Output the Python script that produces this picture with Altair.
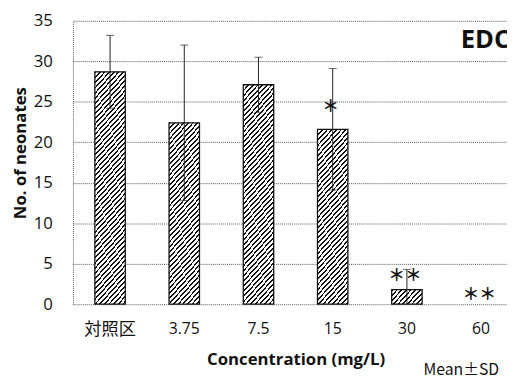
import math
import altair as alt
import pandas as pd

# ---- data ----
categories = ["対照区", "3.75", "7.5", "15", "30", "60"]
means = [28.7, 22.4, 27.1, 21.6, 1.8, 0.0]
sds = [4.5, 9.6, 3.4, 7.5, 2.5, 0.0]
star_cats = ["15", "30", "60"]
star_labels = ["＊", "＊＊", "＊＊"]
star_values = [24.4, 3.5, 1.1]
y_ticks = [0, 5, 10, 15, 20, 25, 30, 35]

# ---- layout ----
W, H = 441, 288
YMAX = 35
STEP = 75.4
PAD_IN = 0.59
BAR_W = STEP * (1 - PAD_IN)
FONT = "'Open Sans', 'Noto Sans CJK JP', sans-serif"
CJK = "'Noto Sans CJK JP', sans-serif"

df = pd.DataFrame({"cat": categories, "mean": means, "sd": sds})
df["lo"] = (df["mean"] - df["sd"]).clip(lower=0)
df["hi"] = df["mean"] + df["sd"]

stars = pd.DataFrame({"cat": star_cats, "label": star_labels, "val": star_values})


def hatch(w, h, period=3.5, dark=0.38, angle=48):
    """Diagonal '/' hatch built from a linear gradient in bbox units."""
    s = math.sin(math.radians(angle))
    c = math.cos(math.radians(angle))
    span = w * s + h * c
    k = span / (w * w * s * s + h * h * c * c)
    dt = period / span
    stops = []
    t = 0.0
    while t < 1:
        b = min(t + dark * dt, 1.0)
        e = min(t + dt, 1.0)
        stops += [
            alt.GradientStop(offset=t, color="#111111"),
            alt.GradientStop(offset=b, color="#111111"),
            alt.GradientStop(offset=b, color="#ffffff"),
            alt.GradientStop(offset=e, color="#ffffff"),
        ]
        t += dt
    return alt.LinearGradient(gradient="linear", stops=stops,
                              x1=0, y1=0, x2=k * w * s, y2=k * h * c)


X = alt.X(
    "cat:N",
    sort=categories,
    scale=alt.Scale(range=[0, 6 * STEP], paddingInner=PAD_IN, paddingOuter=PAD_IN / 2),
    axis=alt.Axis(
        title="Concentration (mg/L)",
        labelAngle=0,
        labelFont=FONT,
        labelFontSize={"condition": {"test": "datum.value === '対照区'", "value": 17.5},
                       "value": 16},
        labelColor="#111",
        labelPadding=17,
        ticks=False,
        tickSize=0,
        domain=False,
        grid=False,
        titleFont=FONT,
        titleFontSize=17,
        titleFontWeight="bold",
        titleColor="#111",
        titlePadding=14,
    ),
)

Y_AX = alt.Axis(
    title="No. of neonates",
    values=y_ticks,
    labelFont=FONT,
    labelFontSize=17,
    labelColor="#111",
    labelPadding=21,
    ticks=False,
    tickSize=0,
    domain=True,
    domainColor="#555",
    domainDash=[1, 1],
    domainWidth=1,
    grid=True,
    gridColor="#555",
    gridDash=[1, 1],
    gridWidth=1,
    titleFont=FONT,
    titleFontSize=17,
    titleFontWeight="bold",
    titleColor="#111",
    titlePadding=4,
    titleY=134,
)

Y = alt.Y("mean:Q", scale=alt.Scale(domain=[0, YMAX], nice=False), axis=Y_AX)

base = alt.Chart(df)

layers = []
for cat, m in zip(categories, means):
    if m <= 0:
        continue
    h = m / YMAX * H
    layers.append(
        base.transform_filter(alt.datum.cat == cat)
        .mark_bar(fill=hatch(BAR_W, h), stroke="#111", strokeWidth=1.3)
        .encode(x=X, y=Y)
    )

err = base.transform_filter(alt.datum.sd > 0)
layers.append(
    err.mark_rule(color="#222", strokeWidth=1).encode(x=X, y=alt.Y("lo:Q"), y2="hi:Q")
)
layers.append(
    err.mark_tick(color="#222", thickness=1, size=8).encode(x=X, y=alt.Y("hi:Q"))
)
layers.append(
    err.transform_filter(alt.datum.lo > 0)
    .mark_tick(color="#222", thickness=1, size=8)
    .encode(x=X, y=alt.Y("lo:Q"))
)

layers.append(
    alt.Chart(stars)
    .mark_text(font=CJK, fontSize=17, fontWeight="bold", baseline="middle", color="#111",
               dx=-2)
    .encode(x=X, y=alt.Y("val:Q"), text="label:N")
)

layers.append(
    alt.Chart(pd.DataFrame({"t": ["EDC"]}))
    .mark_text(align="left", baseline="middle", font=FONT, fontWeight="bold",
               fontSize=26, color="#111")
    .encode(x=alt.value(394), y=alt.value(20), text="t:N")
)

chart = (
    alt.layer(*layers)
    .properties(
        width=W,
        height=H,
        autosize=alt.AutoSizeParams(type="none"),
        padding={"left": 66, "top": 10, "right": 0, "bottom": 74},
        title=alt.TitleParams(
            "Mean±SD", orient="bottom", anchor="end", frame="group",
            font=CJK, fontSize=16, fontWeight="normal", color="#111",
            dx=-8, offset=-6,
        ),
    )
    .configure_view(strokeWidth=0)
)

chart.save("out.html", embed_options={"renderer": "svg", "actions": False})
